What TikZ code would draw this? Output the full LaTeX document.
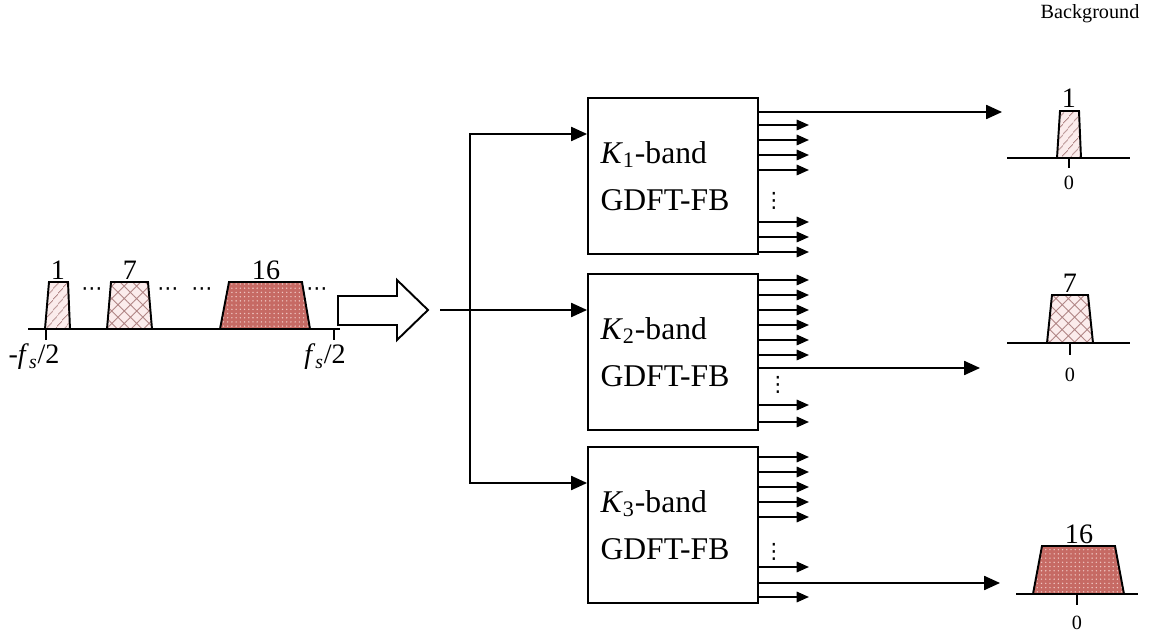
\documentclass[tikz,border=0pt]{standalone}
\usepackage{fontspec}
\setmainfont{Liberation Serif}
\newfontfamily\symfont{DejaVu Sans}
\usetikzlibrary{arrows.meta,calc,patterns.meta}
\definecolor{bpink}{HTML}{FBECEC}
\definecolor{bhatch}{HTML}{B08585}
\definecolor{bred}{HTML}{C66A64}
\definecolor{bdots}{HTML}{EEC4C0}
\tikzset{
  bbox/.style={
    draw, line width=1.1pt, minimum width=3.4cm, minimum height=3.12cm,
    text width=2.9cm, align=left, inner sep=0pt,
    font=\fontsize{18}{27}\selectfont},
  bflow/.style={-{Triangle[length=9pt,width=8pt]}, line width=0.9pt},
  btap/.style={-{Triangle[length=7pt,width=6pt]}, line width=0.9pt},
  baxis/.style={line width=1.1pt},
  bnum/.style={font=\fontsize{16}{16}\selectfont, inner sep=0pt},
  bnote/.style={font=\fontsize{11.5}{12}\selectfont, inner sep=0pt},
  bdot/.style={font=\symfont\fontsize{12}{12}\selectfont, inner sep=0pt},
  bandA/.style={draw, line width=1.1pt, preaction={fill=bpink},
    pattern={Lines[angle=50,distance=4pt,line width=0.6pt]}, pattern color=bhatch},
  bandB/.style={draw, line width=1.1pt, preaction={fill=bpink},
    pattern={Hatch[angle=45,distance=5pt,line width=0.5pt]}, pattern color=bhatch},
  bandC/.style={draw, line width=1.1pt, preaction={fill=bred},
    pattern={Dots[distance=2.4pt,radius=0.45pt]}, pattern color=bdots},
}
\begin{document}
\begin{tikzpicture}[x=0.02cm,y=-0.02cm]
\useasboundingbox (0,0) rectangle (1153,634);

\node[bnote] (bg) at (1090,14) {Background};

% input spectrum
\draw[bandA] (45,329) -- (49,282) -- (68,282) -- (70,329) -- cycle;
\draw[bandB] (107,329) -- (111,282) -- (148,282) -- (152,329) -- cycle;
\draw[bandC] (220,329) -- (229,282) -- (302,282) -- (310,329) -- cycle;
\draw[baxis] (28,329) -- (340,329);
\draw[baxis] (46,329) -- (46,340);
\draw[baxis] (334,329) -- (334,340);
\node[bnum,anchor=base] (n1) at (58,280) {1};
\node[bnum,anchor=base] (n7) at (130,280) {7};
\node[bnum,anchor=base] (n16) at (266,280) {16};
\foreach \x in {92,168,202,317}
  \node[bdot] at (\x,292) {⋯};
\node[bnum] (lo) at (34,357) {-\textit{f}\textsubscript{\textit{s}}/2};
\node[bnum] (hi) at (325,357) {\textit{f}\textsubscript{\textit{s}}/2};

% hollow arrow
\draw[line width=1.1pt] (338,296) -- (397,296) -- (397,280) -- (428,310)
  -- (397,340) -- (397,325) -- (338,325) -- cycle;
\coordinate (tip) at (428,310);
\coordinate (fork) at (470,310);

% filter banks
\node[bbox] (box1) at (673,176) {\textit{K}\textsubscript{1}-band\\GDFT-FB};
\node[bbox] (box2) at (673,352) {\textit{K}\textsubscript{2}-band\\GDFT-FB};
\node[bbox] (box3) at (673,525) {\textit{K}\textsubscript{3}-band\\GDFT-FB};

\draw[line width=0.9pt] ($(tip)+(12,0)$) -- (fork);
\draw[bflow] (fork) -- ($(box2.west)+(0,-42)$);
\draw[bflow] (fork) |- ($(box1.west)+(0,-42)$);
\draw[bflow] (fork) |- ($(box3.west)+(0,-42)$);

\foreach \d in {-51,-36,-21,-6,46,61,76}
  \draw[btap] ($(box1.east)+(0,\d)$) -- ++(50,0);
\foreach \d in {-72,-57,-42,-27,-12,3,53,70}
  \draw[btap] ($(box2.east)+(0,\d)$) -- ++(50,0);
\foreach \d in {-68,-53,-38,-23,-8,42,72}
  \draw[btap] ($(box3.east)+(0,\d)$) -- ++(50,0);
\node[bdot] at ($(box1.east)+(15,25)$) {⋮};
\node[bdot] at ($(box2.east)+(19,33)$) {⋮};
\node[bdot] at ($(box3.east)+(15,27)$) {⋮};

\coordinate (s1) at (1002,112);
\coordinate (s2) at (980,368);
\coordinate (s3) at (1000,583);
\draw[bflow] ($(box1.east)+(0,-64)$) -- (s1);
\draw[bflow] ($(box2.east)+(0,16)$) -- (s2);
\draw[bflow] ($(box3.east)+(0,58)$) -- (s3);

% output spectra
\draw[bandA] (1057,158) -- (1060,111) -- (1079,111) -- (1081,158) -- cycle;
\draw[baxis] (1007,158) -- (1130,158);
\draw[baxis] (1069,158) -- (1069,168);
\node[bnum,anchor=base] (o1) at (1069,108) {1};
\node[bnote] (z1) at (1069,183) {0};

\draw[bandB] (1047,343) -- (1052,295) -- (1088,295) -- (1093,343) -- cycle;
\draw[baxis] (1007,343) -- (1130,343);
\draw[baxis] (1070,343) -- (1070,355);
\node[bnum,anchor=base] (o7) at (1070,293) {7};
\node[bnote] (z7) at (1070,375) {0};

\draw[bandC] (1033,594) -- (1042,546) -- (1115,546) -- (1124,594) -- cycle;
\draw[baxis] (1016,594) -- (1138,594);
\draw[baxis] (1077,594) -- (1077,605);
\node[bnum,anchor=base] (o16) at (1079,544) {16};
\node[bnote] (z16) at (1077,623) {0};

\end{tikzpicture}
\end{document}
